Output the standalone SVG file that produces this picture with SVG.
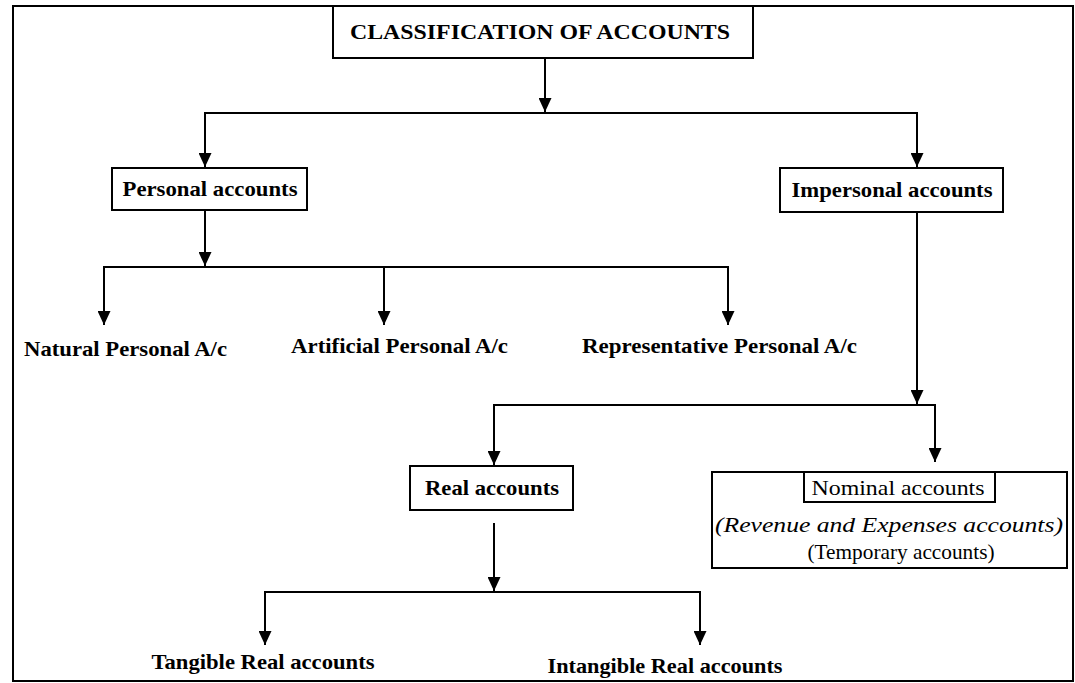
<svg xmlns="http://www.w3.org/2000/svg" width="1075" height="683" viewBox="0 0 1075 683">
<style>
.box{fill:#fff;stroke:#000;stroke-width:2}
.t{font-family:"Liberation Serif","Times New Roman",serif;font-weight:bold;font-size:21px;fill:#000;text-anchor:middle}
.n{font-weight:normal}
.i{font-style:italic;font-weight:normal}
.c{fill:none;stroke:#000;stroke-width:2}
</style>
<defs>
<marker id="arr" markerUnits="userSpaceOnUse" markerWidth="13" markerHeight="14" refX="6.5" refY="14" viewBox="0 0 13 14">
<path d="M0,0 L13,0 L6.5,14 Z" fill="#000"/>
</marker>
</defs>
<rect x="13" y="6" width="1060" height="675" fill="#fff" stroke="#000" stroke-width="2"/>
<g id="connectors">
<path class="c" d="M545,58 V112" marker-end="url(#arr)"/>
<path class="c" d="M205,168 V113 H917 V167"/>
<path class="c" d="M205,113 V167" marker-end="url(#arr)"/>
<path class="c" d="M917,113 V167" marker-end="url(#arr)"/>
<path class="c" d="M205,210 V266" marker-end="url(#arr)"/>
<path class="c" d="M104,325 V267 H728 V325"/>
<path class="c" d="M104,267 V325" marker-end="url(#arr)"/>
<path class="c" d="M384,267 V325" marker-end="url(#arr)"/>
<path class="c" d="M728,267 V325" marker-end="url(#arr)"/>
<path class="c" d="M917,212 V404" marker-end="url(#arr)"/>
<path class="c" d="M494,465 V405 H935 V462"/>
<path class="c" d="M494,405 V465" marker-end="url(#arr)"/>
<path class="c" d="M935,405 V462" marker-end="url(#arr)"/>
<path class="c" d="M494,523 V591" marker-end="url(#arr)"/>
<path class="c" d="M265,645 V592 H700 V645"/>
<path class="c" d="M265,592 V645" marker-end="url(#arr)"/>
<path class="c" d="M700,592 V645" marker-end="url(#arr)"/>
</g>
<g id="title">
<rect class="box" x="333" y="6" width="420" height="52"/>
<text class="t" x="540" y="39" font-size="22" textLength="380" lengthAdjust="spacingAndGlyphs">CLASSIFICATION OF ACCOUNTS</text>
</g>
<g id="personal">
<rect class="box" x="112" y="168" width="195" height="42"/>
<text class="t" x="210" y="196" textLength="175" lengthAdjust="spacingAndGlyphs">Personal accounts</text>
</g>
<g id="impersonal">
<rect class="box" x="780" y="168" width="223" height="44"/>
<text class="t" x="892" y="197" textLength="201" lengthAdjust="spacingAndGlyphs">Impersonal accounts</text>
</g>
<g id="natural">
<text class="t" x="125.5" y="356" textLength="203" lengthAdjust="spacingAndGlyphs">Natural Personal A/c</text>
</g>
<g id="artificial">
<text class="t" x="399.5" y="353" textLength="217" lengthAdjust="spacingAndGlyphs">Artificial Personal A/c</text>
</g>
<g id="representative">
<text class="t" x="719.5" y="353" textLength="275" lengthAdjust="spacingAndGlyphs">Representative Personal A/c</text>
</g>
<g id="real">
<rect class="box" x="410" y="466" width="163" height="44"/>
<text class="t" x="492" y="495" textLength="134" lengthAdjust="spacingAndGlyphs">Real accounts</text>
</g>
<g id="nominal">
<rect class="box" x="712" y="472" width="355" height="96"/>
<rect class="box" x="804" y="472" width="191" height="30"/>
<text class="t n" x="898" y="495" textLength="173" lengthAdjust="spacingAndGlyphs">Nominal accounts</text>
<text class="t i" x="889" y="532" textLength="348" lengthAdjust="spacingAndGlyphs">(Revenue and Expenses accounts)</text>
<text class="t n" x="901" y="559" textLength="187" lengthAdjust="spacingAndGlyphs">(Temporary accounts)</text>
</g>
<g id="tangible">
<text class="t" x="263" y="669" textLength="223" lengthAdjust="spacingAndGlyphs">Tangible Real accounts</text>
</g>
<g id="intangible">
<text class="t" x="665" y="673" textLength="235" lengthAdjust="spacingAndGlyphs">Intangible Real accounts</text>
</g>
</svg>
